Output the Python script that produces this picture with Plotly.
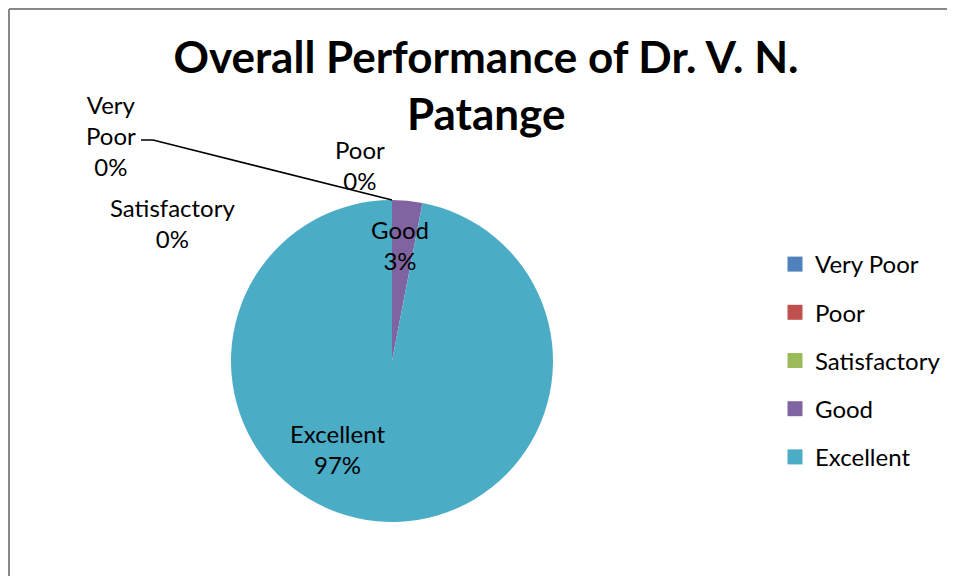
import plotly.graph_objects as go

labels = ["Very Poor", "Poor", "Satisfactory", "Good", "Excellent"]
values = [0, 0, 0, 1, 32]
colors = ["#4F81BD", "#C0504D", "#9BBB59", "#8064A2", "#4BACC6"]
title_line1 = "Overall Performance of Dr. V. N."
title_line2 = "Patange"

W, H = 955, 576
OFF = 8  # page body margin
FONT = "Lato"

def px(x):
    return (x - OFF) / W

def py(y):
    return 1 - (y - OFF) / H

total = sum(values)
pcts = [round(100 * v / total) for v in values]

fig = go.Figure()

cx, cy, r = 392, 361, 161
fig.add_trace(go.Pie(
    labels=labels, values=values,
    marker=dict(colors=colors, line=dict(width=0)),
    sort=False, direction="clockwise", rotation=0,
    textinfo="none", hoverinfo="label+percent",
    showlegend=False,
    domain=dict(x=[px(cx - r), px(cx + r)], y=[py(cy + r), py(cy - r)]),
))

for lab, col in zip(labels, colors):
    fig.add_trace(go.Scatter(
        x=[None], y=[None], mode="markers", name=lab, legendgroup=lab,
        marker=dict(symbol="square", size=15, color=col),
    ))

label_pos = {
    "Very Poor": (111, 135, "Very<br>Poor<br>"),
    "Poor": (360, 165, "Poor<br>"),
    "Satisfactory": (172, 223, "Satisfactory<br>"),
    "Good": (400, 245, "Good<br>"),
    "Excellent": (337, 449, "Excellent<br>"),
}
annotations = []
for lab, p in zip(labels, pcts):
    x, y, t = label_pos[lab]
    annotations.append(dict(
        x=px(x), y=py(y), xref="paper", yref="paper", showarrow=False,
        text=f"{t}{p}%", align="center", xanchor="center", yanchor="middle",
        font=dict(family=FONT, size=24, color="#000000"),
    ))

annotations.append(dict(
    x=px(486), y=py(113), xref="paper", yref="paper", showarrow=False,
    text=f"<b>{title_line2}</b>", xanchor="center", yanchor="middle",
    font=dict(family=FONT, size=44, color="#000000"),
))

shapes = [
    dict(type="path", xref="paper", yref="paper",
         path=f"M {px(141)} {py(140)} L {px(153)} {py(140)} L {px(392)} {py(200)}",
         line=dict(color="#000000", width=1.5)),
    dict(type="line", xref="paper", yref="paper", x0=1 / W, x1=1, y0=1 - 1 / H, y1=1 - 1 / H,
         line=dict(color="#888888", width=2)),
    dict(type="line", xref="paper", yref="paper", x0=1 / W, x1=1 / W, y0=1 - 1 / H, y1=0,
         line=dict(color="#888888", width=2)),
]

fig.update_layout(
    width=W, height=H,
    margin=dict(l=0, r=0, t=0, b=0),
    paper_bgcolor="white", plot_bgcolor="white",
    title=dict(text=f"<b>{title_line1}</b>", x=px(486), xanchor="center",
               y=py(58), yanchor="middle",
               font=dict(family=FONT, size=44, color="#000000")),
    xaxis=dict(visible=False), yaxis=dict(visible=False),
    legend=dict(x=px(775), y=py(242), xanchor="left", yanchor="top",
                font=dict(family=FONT, size=24, color="#000000"),
                tracegroupgap=14, itemwidth=30, bgcolor="rgba(0,0,0,0)"),
    annotations=annotations,
    shapes=shapes,
)

fig.write_html("out.html")
